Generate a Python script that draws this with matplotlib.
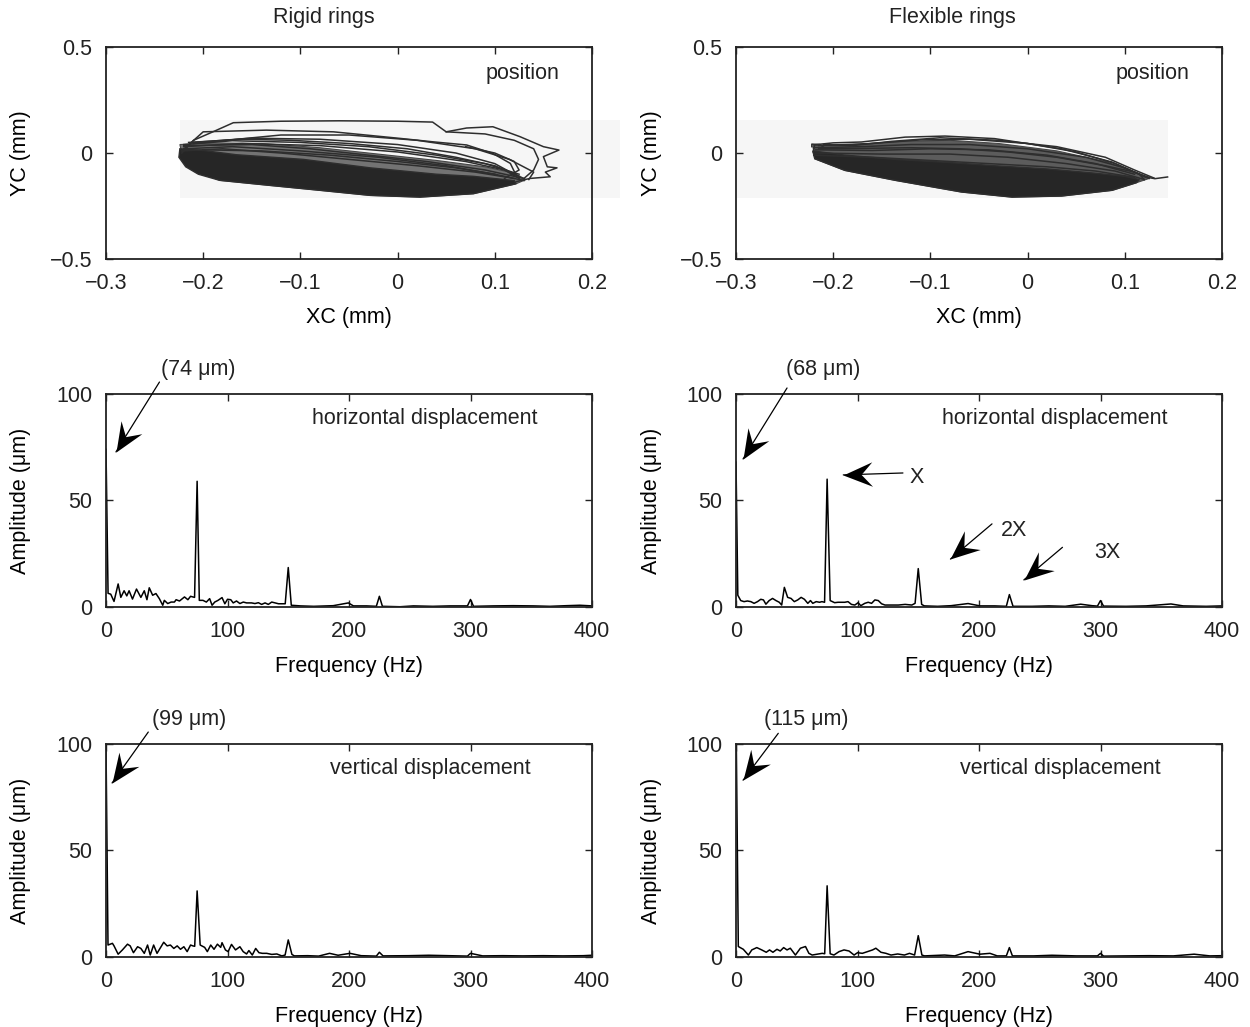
import numpy as np
import matplotlib
matplotlib.use("Agg")
import matplotlib.pyplot as plt
from matplotlib.patches import Polygon, Rectangle
from matplotlib.path import Path

plt.rcParams['font.family'] = ['Liberation Sans', 'DejaVu Sans']
plt.rcParams['font.size'] = 15.5
plt.rcParams['text.color'] = '#222222'

# ---- orbit data (XC, YC in mm), read off the scanned orbits ----
# dense dark part of each orbit
rigid_core = [(-0.224, 0.02), (-0.2, 0.012), (-0.166, -0.008), (-0.097, -0.03), (-0.028, -0.07),
              (0.040, -0.10), (0.078, -0.11), (0.12, -0.13), (0.122, -0.145), (0.078, -0.192),
              (0.023, -0.208), (-0.028, -0.2), (-0.080, -0.176), (-0.131, -0.153), (-0.183, -0.129),
              (-0.205, -0.1), (-0.218, -0.065), (-0.225, -0.02)]
# band of crowded lines above it
rigid_mid = [(-0.224, 0.04), (-0.19, 0.048), (-0.14, 0.045), (-0.08, 0.025), (-0.02, -0.005),
             (0.04, -0.035), (0.09, -0.065), (0.12, -0.095), (0.132, -0.125), (0.122, -0.145),
             (0.078, -0.192), (0.023, -0.208), (-0.028, -0.2), (-0.080, -0.176), (-0.131, -0.153),
             (-0.183, -0.129), (-0.205, -0.09), (-0.22, -0.04)]
rigid_loops = [
    [(-0.222, 0.0), (-0.21, 0.06), (-0.19, 0.10), (-0.169, 0.143), (-0.12, 0.150), (-0.06, 0.152),
     (0.0, 0.150), (0.036, 0.146), (0.05, 0.10), (0.071, 0.118), (0.098, 0.124), (0.126, 0.077),
     (0.15, 0.030), (0.166, 0.014), (0.15, -0.017), (0.154, -0.065), (0.164, -0.07), (0.152, -0.09),
     (0.157, -0.112), (0.136, -0.12), (0.122, -0.135)],
    [(-0.222, 0.01), (-0.2, 0.1), (-0.135, 0.108), (-0.066, 0.1), (0.0025, 0.069), (0.036, 0.053),
     (0.071, 0.038), (0.098, -0.002), (0.116, -0.049), (0.122, -0.106)],
    [(-0.21, 0.05), (-0.15, 0.07), (-0.08, 0.065), (0.0, 0.04), (0.06, 0.0), (0.10, -0.05), (0.12, -0.1)],
    [(-0.22, 0.03), (-0.16, 0.045), (-0.08, 0.035), (0.0, 0.005), (0.07, -0.04), (0.11, -0.08), (0.125, -0.12)],
    [(-0.22, 0.02), (-0.17, 0.03), (-0.10, 0.01), (-0.02, -0.02), (0.05, -0.06), (0.10, -0.1), (0.13, -0.13)],
    [(-0.21, 0.045), (-0.12, 0.085), (-0.05, 0.085), (0.02, 0.06), (0.08, 0.02), (0.115, -0.03),
     (0.14, -0.09), (0.135, -0.125)],
    [(0.05, 0.10), (0.09, 0.09), (0.12, 0.06), (0.14, 0.02), (0.145, -0.03), (0.14, -0.08), (0.13, -0.12)],
    [(-0.222, 0.01), (-0.18, 0.02), (-0.12, 0.0), (-0.05, -0.03), (0.02, -0.06), (0.08, -0.09), (0.12, -0.12)],
    [(-0.22, 0.04), (-0.17, 0.058), (-0.1, 0.05), (-0.03, 0.03), (0.04, -0.01), (0.09, -0.05), (0.125, -0.1)],
    [(-0.22, 0.035), (-0.15, 0.04), (-0.09, 0.02), (-0.03, -0.01), (0.03, -0.04), (0.09, -0.08), (0.13, -0.12)],
    [(-0.215, 0.05), (-0.16, 0.065), (-0.11, 0.06), (-0.05, 0.045), (0.01, 0.02), (0.06, -0.02),
     (0.1, -0.06), (0.125, -0.11)],
    [(-0.2, 0.015), (-0.14, 0.01), (-0.07, -0.01), (0.0, -0.04), (0.06, -0.07), (0.1, -0.1)],
    [(0.07, 0.03), (0.1, 0.0), (0.12, -0.04), (0.125, -0.08), (0.11, -0.12)],
]

flex_core = [(-0.221, 0.01), (-0.188, -0.01), (-0.136, -0.03), (-0.08, -0.045), (-0.034, -0.06),
             (0.02, -0.075), (0.069, -0.095), (0.10, -0.11), (0.115, -0.125), (0.112, -0.14),
             (0.087, -0.176), (0.035, -0.203), (-0.016, -0.208), (-0.068, -0.184), (-0.136, -0.129),
             (-0.188, -0.082), (-0.219, -0.027)]
flex_mid = [(-0.221, 0.035), (-0.18, 0.04), (-0.13, 0.055), (-0.08, 0.06), (-0.03, 0.045), (0.03, 0.01),
            (0.08, -0.04), (0.11, -0.09), (0.125, -0.12), (0.112, -0.14), (0.087, -0.176), (0.035, -0.203),
            (-0.016, -0.208), (-0.068, -0.184), (-0.136, -0.129), (-0.188, -0.082), (-0.219, -0.027)]
flex_loops = [
    [(-0.2205, 0.005), (-0.219, 0.039), (-0.2, 0.048), (-0.171, 0.052), (-0.126, 0.075), (-0.085, 0.080),
     (-0.034, 0.068), (0.035, 0.020), (0.0865, -0.042), (0.121, -0.113), (0.131, -0.121), (0.144, -0.113)],
    [(-0.215, 0.035), (-0.16, 0.045), (-0.11, 0.062), (-0.06, 0.065), (0.0, 0.045), (0.05, 0.005),
     (0.09, -0.05), (0.115, -0.10), (0.12, -0.125)],
    [(-0.22, 0.025), (-0.17, 0.03), (-0.12, 0.04), (-0.06, 0.04), (0.0, 0.02), (0.06, -0.02),
     (0.10, -0.07), (0.125, -0.12)],
    [(-0.218, 0.015), (-0.16, 0.012), (-0.10, 0.02), (-0.04, 0.015), (0.02, -0.01), (0.07, -0.05), (0.11, -0.10)],
    [(-0.22, 0.0), (-0.15, -0.005), (-0.08, -0.005), (-0.02, -0.02), (0.04, -0.05), (0.09, -0.085), (0.12, -0.125)],
    [(-0.21, 0.04), (-0.18, 0.035), (-0.14, 0.055), (-0.09, 0.072), (-0.03, 0.06), (0.03, 0.03),
     (0.08, -0.02), (0.11, -0.08), (0.13, -0.118)],
    [(-0.22, -0.01), (-0.16, -0.02), (-0.10, -0.035), (-0.04, -0.05), (0.02, -0.065), (0.07, -0.085), (0.11, -0.115)],
    [(-0.215, 0.02), (-0.17, 0.022), (-0.12, 0.025), (-0.07, 0.02), (-0.02, 0.005), (0.03, -0.02),
     (0.08, -0.06), (0.11, -0.09), (0.125, -0.115)],
    [(-0.222, 0.03), (-0.222, 0.042), (-0.214, 0.04), (-0.21, 0.028)],
]

# ---- spectra (frequency Hz, amplitude um) ----
rigid_h = [(0, 74), (1.7, 6.4), (3.9, 6), (6.6, 2.6), (10, 10.8), (12.2, 4.5), (14.9, 7.6), (17.1, 5.2),
           (19, 7.6), (21.8, 3.7), (25.1, 8.4), (28.7, 4.5), (31.5, 7.6), (33.7, 3.4), (35.6, 9), (38.4, 5.5),
           (41.1, 6.3), (43.9, 3.9), (46.7, 0.8), (48, 3.1), (50.8, 1.6), (53.6, 2.3), (56.3, 2.3), (57.7, 3.4),
           (60.5, 2.8), (64.6, 4.7), (67.4, 3.4), (69.6, 5), (71.5, 4.7), (72.9, 4.5), (75, 59), (76.8, 3.1),
           (79.8, 3.1), (82.6, 2.3), (85.3, 3.9), (87.3, 0.8), (89.5, 2.3), (92.2, 3.1), (95.5, 4.4), (97.8, 1.5),
           (100, 3.6), (102.7, 3.4), (104.7, 1.9), (107.4, 2.8), (110.2, 1.6), (113, 2.3), (115.7, 1.9),
           (119.8, 1.9), (122.6, 1.6), (125.4, 2.0), (128.1, 1.2), (130.9, 1.9), (133.6, 1.2), (136.4, 2.3),
           (142, 1.5), (147.5, 1.5), (150, 18.5), (152.5, 0.8), (160, 0.5), (171, 0.3), (187, 0.6), (199.5, 1.9),
           (203.6, 0.5), (214.5, 0.5), (222.5, 0.3), (225, 5), (227.5, 0.3), (242, 0.1), (253, 0.5), (269, 0.3),
           (283, 0.5), (297.5, 0.5), (300, 3.5), (302.5, 0.3), (318.8, 0.5), (335, 0.6), (351.7, 0.5),
           (365.4, 0.3), (379, 0.6), (390, 0.8), (400, 0.5)]
flex_h = [(0, 68), (1.5, 5.5), (3.9, 3.0), (6.6, 2.5), (9.4, 2.8), (12.2, 2.5), (14.9, 1.7), (17.7, 2.5),
          (20.4, 3.6), (22.6, 3.3), (24.6, 1.3), (27.3, 3.0), (30.1, 4.0), (32.9, 3.0), (35.6, 2.2), (37.6, 0.9),
          (39.8, 9.2), (42.5, 4.5), (45.3, 4.0), (48, 2.5), (50.8, 3.3), (53.6, 4.5), (56.3, 3.6), (59.1, 1.7),
          (61.3, 3.0), (63.2, 1.7), (66, 2.5), (68.8, 2.2), (70.7, 2.5), (72.9, 2.2), (75, 60), (77.5, 3.0),
          (81.2, 2.0), (83.9, 2.2), (86.7, 2.2), (89.5, 2.2), (92.2, 2.5), (95, 1.2), (97.8, 0.9), (100.5, 2.0),
          (102.7, 0.6), (106, 1.7), (108.8, 2.2), (111.6, 1.7), (114.3, 3.3), (117.1, 3.0), (119.8, 1.5),
          (122.6, 0.9), (128.1, 0.9), (133.6, 0.9), (139.2, 1.2), (144.7, 0.9), (147.4, 1.7), (150, 18),
          (152.8, 1.2), (155, 0.5), (166, 0.3), (177, 0.6), (191, 1.6), (200.8, 0.5), (213, 0.5), (222.5, 0.3),
          (225, 5.8), (228, 0.3), (243.6, 0.3), (257.5, 0.5), (271, 0.3), (283.7, 1.3), (293, 0.6), (297.5, 0.4),
          (300, 3.0), (302.5, 0.4), (321, 0.3), (337.6, 0.5), (358, 1.4), (368, 0.5), (387, 0.3), (400, 0.5)]
rigid_v = [(0, 99), (1.65, 5.6), (5.3, 6.4), (6.6, 5.2), (10, 1.3), (13.5, 3.3), (17.7, 6.0), (19.9, 5.2),
           (22.6, 2.0), (26, 4.8), (28.7, 4.0), (31.5, 1.7), (34.2, 5.6), (36.4, 0.9), (39.2, 5.6), (42, 1.7),
           (45.3, 4.8), (47.5, 6.9), (50.3, 5.2), (53, 5.6), (55.8, 4.0), (58.6, 5.2), (61.3, 3.6), (64.1, 4.8),
           (66.8, 2.5), (69.6, 5.6), (71.5, 5.2), (73, 5.0), (75, 31), (77.5, 5.6), (81.2, 4.5), (83.4, 2.5),
           (86.2, 5.6), (88.9, 3.6), (91.7, 6.0), (94.4, 4.5), (95.5, 6.7), (98.3, 3.3), (100.5, 2.5),
           (103.3, 5.9), (106.6, 3.3), (110.2, 4.8), (112.9, 2.5), (115.7, 1.4), (117.6, 3.0), (120.4, 0.9),
           (123.2, 4.0), (125.9, 2.0), (128.7, 1.7), (132.3, 1.7), (136.4, 1.2), (140.6, 1.4), (144.7, 0.5),
           (147.4, 0.9), (150, 8), (153, 1.2), (155, 0.5), (166, 0.6), (175, 0.4), (184, 1.7), (191, 0.8),
           (200.8, 1.7), (210, 0.6), (222.5, 0.4), (225, 2.2), (228, 0.5), (249, 0.6), (265.7, 0.8), (282, 0.6),
           (297.5, 0.4), (300, 1.7), (310, 0.5), (326.5, 0.6), (343, 0.5), (359.7, 0.6), (376, 0.5),
           (392.8, 0.6), (400, 0.8)]
flex_v = [(0, 115), (1.9, 4.9), (6, 3.6), (10.2, 0.9), (13, 3.3), (17.1, 4.4), (21.2, 3.3), (24.9, 2.2),
          (27.6, 3.3), (30.4, 2.2), (33.7, 3.6), (36.4, 2.8), (39.2, 4.4), (42, 3.3), (44.7, 4.1), (48.9, 0.9),
          (53, 4.1), (57.2, 4.9), (60, 1.7), (62.7, 0.9), (66.8, 1.3), (71, 1.7), (73, 1.5), (75, 33.4),
          (77.5, 1.5), (80.6, 0.9), (84.8, 2.5), (88.9, 3.3), (93, 2.8), (97.2, 0.9), (100, 2.0), (104, 1.7),
          (108.2, 2.5), (112.4, 3.3), (115.1, 4.1), (119.3, 2.2), (123.4, 1.7), (127.6, 0.9), (133.1, 1.4),
          (138.6, 0.9), (142.8, 1.7), (147, 0.9), (150, 10), (153, 0.9), (155.2, 0.5), (171.7, 0.9), (180, 0.5),
          (191, 2.5), (200.7, 1.3), (209, 1.7), (215, 0.5), (222.5, 0.5), (225, 4.4), (227.5, 0.5), (245, 0.5),
          (260, 0.8), (280, 0.5), (297.5, 0.5), (300, 1.7), (302.5, 0.4), (320, 0.5), (340, 0.6), (360, 0.5),
          (377, 1.3), (390, 0.5), (400, 0.6)]

col_titles = ['Rigid rings', 'Flexible rings']
spec_labels = ['horizontal displacement', 'vertical displacement']
peak_notes = [['(74 \u03bcm)', '(68 \u03bcm)'], ['(99 \u03bcm)', '(115 \u03bcm)']]

ink = '#222222'
fig = plt.figure(figsize=(12.5, 10.27), dpi=100)

lefts = [0.0848, 0.5888]
w = 0.3888
rows = [(0.7478, 0.2064), (0.409, 0.2074), (0.0682, 0.2074)]


def style(ax):
    ax.tick_params(direction='in', top=True, right=True, length=5, width=1, pad=10, colors=ink)
    for s in ax.spines.values():
        s.set_linewidth(1.3)
        s.set_color(ink)


def arrow(ax, tip, tail, head=21):
    # thin shaft plus a swept-back filled head, like the original figure
    ax.annotate('', xy=tip, xytext=tail, annotation_clip=False,
                arrowprops=dict(arrowstyle='-', color='black', lw=0.9, shrinkA=0, shrinkB=0))
    p1 = ax.transData.transform(tip)
    p0 = ax.transData.transform(tail)
    ang = np.arctan2(p1[1] - p0[1], p1[0] - p0[0])
    shape = np.array([(0, 0), (-1, 0.42), (-0.62, 0), (-1, -0.42), (0, 0)])
    rot = np.array([[np.cos(ang), -np.sin(ang)], [np.sin(ang), np.cos(ang)]])
    verts = shape @ rot.T
    r = np.abs(verts).max()
    codes = [Path.MOVETO, Path.LINETO, Path.LINETO, Path.LINETO, Path.CLOSEPOLY]
    ax.plot([tip[0]], [tip[1]], marker=Path(verts, codes), markersize=2 * head * r,
            color='black', markeredgewidth=0, clip_on=False, zorder=5)


axes = [[fig.add_axes([lefts[c], rows[r][0], w, rows[r][1]]) for c in range(2)] for r in range(3)]

# top row: orbits
orbits = [(rigid_mid, rigid_core, rigid_loops, '#737373'), (flex_mid, flex_core, flex_loops, '#5c5c5c')]
for c, (mid, core, loops, mid_col) in enumerate(orbits):
    ax = axes[0][c]
    style(ax)
    # faint scan background behind the orbit
    if c == 0:
        ax.add_patch(Rectangle((-0.224, -0.212), 0.453, 0.368, color='#f6f6f6', zorder=0, clip_on=False, lw=0))
    else:
        ax.add_patch(Rectangle((-0.299, -0.212), 0.443, 0.368, color='#f6f6f6', zorder=0, lw=0))
    ax.add_patch(Polygon(mid, closed=True, facecolor=mid_col, edgecolor='#444444', lw=0.8, zorder=1))
    ax.add_patch(Polygon(core, closed=True, facecolor='#262626', edgecolor='#2e2e2e', lw=1.0, zorder=2))
    for lp in loops:
        pts = np.array(lp)
        ax.plot(pts[:, 0], pts[:, 1], color='#2e2e2e', lw=1.1, zorder=3)
    ax.set_xlim(-0.3, 0.2)
    ax.set_ylim(-0.5, 0.5)
    ax.set_xticks([-0.3, -0.2, -0.1, 0, 0.1, 0.2])
    ax.set_xticklabels(['\u22120.3', '\u22120.2', '\u22120.1', '0', '0.1', '0.2'])
    ax.set_yticks([-0.5, 0, 0.5])
    ax.set_yticklabels(['\u22120.5', '0', '0.5'])
    ax.set_xlabel('XC (mm)')
    ax.set_ylabel('YC (mm)')
    ax.text(0.129, 0.377, 'position', ha='center', va='center')

# spectra
spectra = [[rigid_h, flex_h], [rigid_v, flex_v]]
for r in range(2):
    for c in range(2):
        ax = axes[r + 1][c]
        style(ax)
        d = np.array(spectra[r][c])
        ax.plot(d[:, 0], d[:, 1], color='black', lw=1.1)
        ax.set_xlim(0, 400)
        ax.set_ylim(0, 100)
        ax.set_xticks([0, 100, 200, 300, 400])
        ax.set_yticks([0, 50, 100])
        ax.set_xlabel('Frequency (Hz)')
        ax.set_ylabel('Amplitude (\u03bcm)')
        ax.text(262 if r == 0 else 267, 88.5, spec_labels[r], ha='center', va='center')

# zero-frequency amplitude callouts: (tip, tail, label x)
callouts = [
    [((8.2, 72.8), (44, 105.6), 75.7), ((5.8, 69.5), (42, 102.8), 71.6)],
    [((5, 81.7), (34.8, 105.6), 68.3), ((5.8, 83), (34.8, 105), 57.6)],
]
for r in range(2):
    for c in range(2):
        ax = axes[r + 1][c]
        tip, tail, lx = callouts[r][c]
        arrow(ax, tip, tail)
        ax.text(lx, 111.3, peak_notes[r][c], ha='center', va='center', clip_on=False)

# harmonic markers on the flexible horizontal spectrum
ax = axes[1][1]
harmonics = [('X', (88.3, 62), (137.4, 62.9), (143, 61)),
             ('2X', (176.5, 22.5), (210.7, 39), (218, 36)),
             ('3X', (236.9, 12.7), (268.7, 28), (294.7, 25.8))]
for name, tip, tail, pos in harmonics:
    arrow(ax, tip, tail)
    ax.text(pos[0], pos[1], name, ha='left', va='center')

for row in axes:
    for c, ax in enumerate(row):
        ax.yaxis.set_label_coords(-0.155 if c == 0 else -0.152, 0.5)
        ax.xaxis.set_label_coords(0.5, -0.228)

fig.text(0.2592, 0.9825, col_titles[0], ha='center', va='center')
fig.text(0.7616, 0.9825, col_titles[1], ha='center', va='center')

fig.savefig('out.png', dpi=100, facecolor='white')
